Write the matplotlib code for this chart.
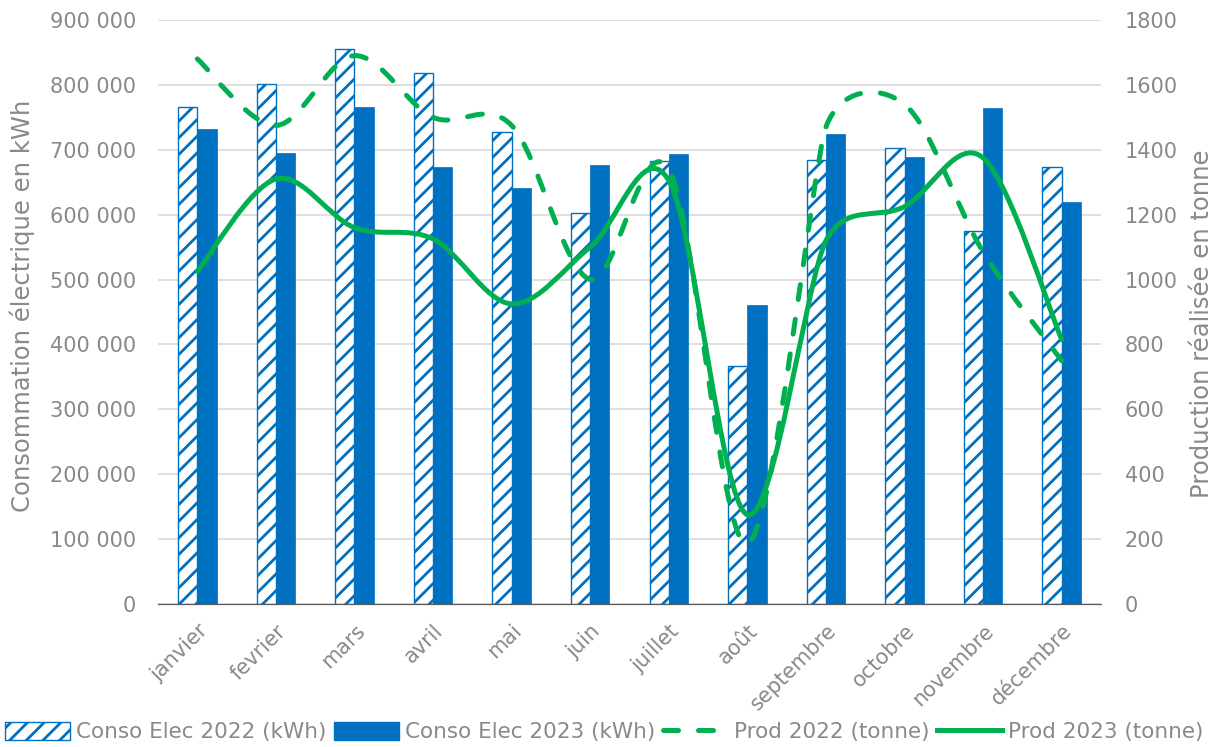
import matplotlib

matplotlib.use("Agg")

import matplotlib.pyplot as plt
import numpy as np
from matplotlib.lines import Line2D
from matplotlib.patches import Patch, PathPatch
from matplotlib.path import Path
from matplotlib.ticker import FuncFormatter, MultipleLocator


MONTHS = ["janvier", "fevrier", "mars", "avril", "mai", "juin", "juillet",
          "août", "septembre", "octobre", "novembre", "décembre"]
CONSO_2022 = [766000, 802000, 856000, 819000, 728000, 602000,
              682000, 367000, 684000, 703000, 575000, 673000]
CONSO_2023 = [732000, 695000, 766000, 674000, 641000, 677000,
              693000, 461000, 724000, 689000, 765000, 619000]
PROD_2022 = [1680, 1475, 1690, 1500, 1475, 1000, 1340, 185, 1470, 1540, 1085, 750]
PROD_2023 = [1025, 1310, 1160, 1125, 925, 1100, 1305, 275, 1120, 1225, 1375, 815]

BLUE = "#0070C0"
GREEN = "#00B050"
GREY = "#898989"

plt.rcParams["font.family"] = ["DejaVu Sans"]
plt.rcParams["hatch.linewidth"] = 2.0


def smooth_path(ax, xs, ys) -> Path:
    """Excel-like smoothed line: cubic Bezier through every point,
    tangent arms limited to half of the shorter neighbouring segment (in pixels)."""
    p = ax.transData.transform(np.column_stack([xs, ys]).astype(float))
    n = len(p)
    arms = []
    for i in range(n):
        prev = p[max(i - 1, 0)]
        nxt = p[min(i + 1, n - 1)]
        d02 = np.hypot(*(nxt - prev))
        d01 = np.hypot(*(p[i] - prev))
        d12 = np.hypot(*(nxt - p[i]))
        f = 1 / 6
        short = min(v for v in (d01, d12) if v > 0)
        if d02 > 0 and d02 * f > short / 2:
            f = short / 2 / d02
        arms.append((nxt - prev) * f)
    verts = [p[0]]
    codes = [Path.MOVETO]
    for i in range(n - 1):
        verts += [p[i] + arms[i], p[i + 1] - arms[i + 1], p[i + 1]]
        codes += [Path.CURVE4] * 3
    verts = ax.transData.inverted().transform(np.array(verts))
    return Path(verts, codes)


fig = plt.figure(figsize=(12.18, 7.47), dpi=100)
ax = fig.add_axes([158 / 1218, 1 - 604 / 747, 943 / 1218, 584 / 747])
ax2 = ax.twinx()

x = np.arange(len(MONTHS))
w = 0.245
ax.bar(x - w / 2, CONSO_2022, w, color="white", edgecolor=BLUE, hatch="//", linewidth=1.0)
ax.bar(x + w / 2, CONSO_2023, w, color=BLUE, edgecolor=BLUE, linewidth=0.5)

ax.set_xlim(-0.5, len(MONTHS) - 0.5)
ax.set_ylim(0, 900000)
ax.yaxis.set_major_locator(MultipleLocator(100000))
ax.yaxis.set_major_formatter(FuncFormatter(lambda v, _: f"{v:,.0f}".replace(",", " ")))
ax.set_axisbelow(True)
ax.grid(axis="y", color="#D9D9D9", linewidth=1.2)
ax.set_xticks(x)
ax.set_xticklabels(MONTHS, rotation=45, ha="right", va="top", rotation_mode="anchor")

ax2.set_xlim(-0.5, len(MONTHS) - 0.5)
ax2.set_ylim(0, 1800)
ax2.yaxis.set_major_locator(MultipleLocator(200))

dash_pat = (0, (3.0, 4.0))
ax2.add_patch(PathPatch(smooth_path(ax2, x, PROD_2022), fill=False, edgecolor=GREEN, linewidth=3.6,
                        linestyle=dash_pat, capstyle="round"))
ax2.add_patch(PathPatch(smooth_path(ax2, x, PROD_2023), fill=False, edgecolor=GREEN, linewidth=3.6,
                        capstyle="round", joinstyle="round"))

for a in (ax, ax2):
    for side in ("top", "left", "right"):
        a.spines[side].set_visible(False)
    a.spines["bottom"].set_color("#595959")
    a.tick_params(length=0, labelsize=15, labelcolor=GREY)
ax.tick_params(axis="y", pad=16)
ax.tick_params(axis="x", pad=12)
ax2.tick_params(axis="y", pad=17)

ax.set_ylabel("Consommation électrique en kWh", fontsize=17.5, color=GREY)
ax.yaxis.set_label_coords(-0.130, 0.51)
ax2.set_ylabel("Production réalisée en tonne", fontsize=17.5, color=GREY)
ax2.yaxis.set_label_coords(1.094, 0.48)

handles = [
    Patch(facecolor="white", edgecolor=BLUE, hatch="//", linewidth=1.0),
    Patch(facecolor=BLUE, edgecolor=BLUE),
    Line2D([], [], color=GREEN, linewidth=3.6, linestyle=dash_pat, dash_capstyle="round"),
    Line2D([], [], color=GREEN, linewidth=3.6),
]
labels = ["Conso Elec 2022 (kWh)", "Conso Elec 2023 (kWh)", "Prod 2022 (tonne)", "Prod 2023 (tonne)"]
fig.legend(handles, labels, loc="center", bbox_to_anchor=(0.496, 1 - 732 / 747), ncol=4,
           frameon=False, fontsize=15.5, labelcolor=GREY, handlelength=3.0, handleheight=0.9,
           handletextpad=0.28, columnspacing=0.37, borderaxespad=0, borderpad=0)

fig.savefig("out.png", dpi=100)
